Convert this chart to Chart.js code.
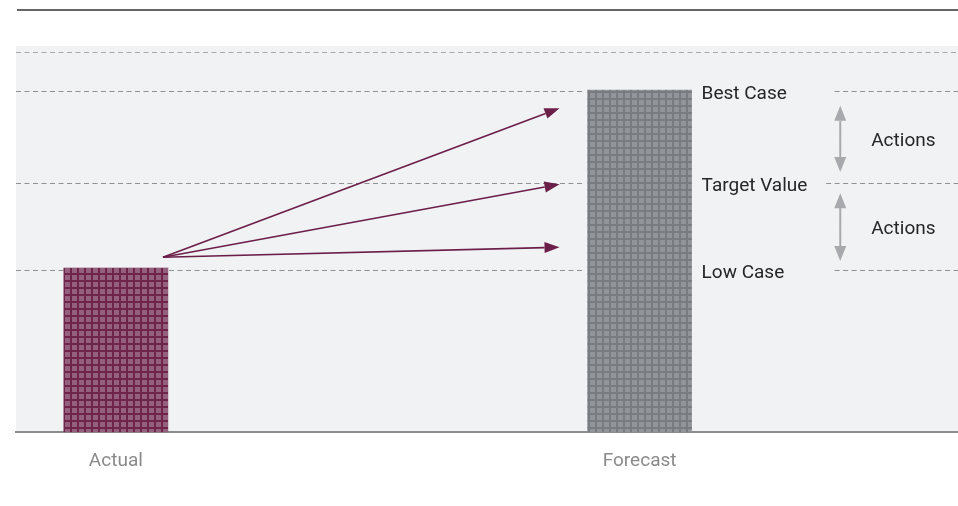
<!DOCTYPE html>
<html>
<head>
<meta charset="utf-8">
<script src="https://cdn.jsdelivr.net/npm/chart.js@4"></script>
<style>
  body { margin: 0; background: #ffffff; }
  #wrap { width: 958px; height: 506px; }
</style>
</head>
<body>
<div id="wrap"><canvas id="forecast-chart"></canvas></div>
<script>
// categories and bars
let categories = ['Actual', 'Forecast'];
let categoryX = [10.6, 66.2];
let barValues = [42.5, 88.6];

// case lines and their labels
let caseLabels = ['Best Case', 'Target Value', 'Low Case'];
let caseValues = [88.3, 64.5, 42];
let caseGapEnd = [86.9, 86.0, 86.9];
let topLineValue = 98.5;

// arrows from actual to forecast
let arrowStart = [15.6, 45.3];
let arrowEndX = 57.7;
let arrowEndValues = [83.9, 64.2, 47.9];

// actions ranges
let actionsX = 87.5;
let actionsTextX = 94.2;
let actionsRanges = [[84.5, 67.4], [61.9, 44.3]];
let actionsLabels = ['Actions', 'Actions'];

let fontFamily = 'Roboto, "Liberation Sans", sans-serif';

function makePattern(dark, light) {
  let c = document.createElement('canvas');
  c.width = 7;
  c.height = 7;
  let g = c.getContext('2d');
  g.fillStyle = dark;
  g.fillRect(0, 0, 7, 7);
  g.fillStyle = light;
  g.fillRect(2, 2, 5, 5);
  return g.createPattern(c, 'repeat');
}

function arrow(ctx, x1, y1, x2, y2, color, width, head, half) {
  let ang = Math.atan2(y2 - y1, x2 - x1);
  let bx = x2 - head * Math.cos(ang);
  let by = y2 - head * Math.sin(ang);
  ctx.strokeStyle = color;
  ctx.fillStyle = color;
  ctx.lineWidth = width;
  ctx.setLineDash([]);
  ctx.beginPath();
  ctx.moveTo(x1, y1);
  ctx.lineTo(bx, by);
  ctx.stroke();
  ctx.beginPath();
  ctx.moveTo(x2, y2);
  ctx.lineTo(bx + half * Math.sin(ang), by - half * Math.cos(ang));
  ctx.lineTo(bx - half * Math.sin(ang), by + half * Math.cos(ang));
  ctx.closePath();
  ctx.fill();
}

let decor = {
  id: 'decor',
  beforeDraw(chart) {
    let ctx = chart.ctx;
    let a = chart.chartArea;
    ctx.save();
    ctx.fillStyle = '#f1f2f4';
    ctx.fillRect(a.left, a.top, a.right - a.left, a.bottom - a.top);
    ctx.strokeStyle = '#666666';
    ctx.lineWidth = 2;
    ctx.beginPath();
    ctx.moveTo(a.left + 1, 10);
    ctx.lineTo(a.right, 10);
    ctx.stroke();
    ctx.restore();
  },
  beforeDatasetsDraw(chart) {
    let ctx = chart.ctx;
    let x = chart.scales.x;
    let y = chart.scales.y;
    let a = chart.chartArea;
    ctx.save();
    ctx.lineWidth = 1.2;
    ctx.setLineDash([5, 3.5]);
    ctx.strokeStyle = '#a5a7aa';
    let ty = Math.round(y.getPixelForValue(topLineValue)) + 0.5;
    ctx.beginPath();
    ctx.moveTo(a.left, ty);
    ctx.lineTo(a.right, ty);
    ctx.stroke();
    ctx.strokeStyle = '#8e9093';
    let barLeft = x.getPixelForValue(categoryX[1]) - 52;
    caseValues.forEach((v, i) => {
      let py = Math.round(y.getPixelForValue(v)) + 0.5;
      ctx.beginPath();
      ctx.moveTo(a.left, py);
      ctx.lineTo(barLeft - 3, py);
      ctx.moveTo(x.getPixelForValue(caseGapEnd[i]), py);
      ctx.lineTo(a.right, py);
      ctx.stroke();
    });
    ctx.restore();
  },
  afterDatasetsDraw(chart) {
    let ctx = chart.ctx;
    let x = chart.scales.x;
    let y = chart.scales.y;
    ctx.save();
    let sx = x.getPixelForValue(arrowStart[0]);
    let sy = y.getPixelForValue(arrowStart[1]);
    arrowEndValues.forEach(v => {
      arrow(ctx, sx, sy, x.getPixelForValue(arrowEndX), y.getPixelForValue(v), '#6b1f48', 1.6, 15, 5.5);
    });

    ctx.font = '19px ' + fontFamily;
    ctx.fillStyle = '#262626';
    ctx.textBaseline = 'middle';
    ctx.textAlign = 'left';
    let labelX = x.getPixelForValue(categoryX[1]) + 62;
    caseLabels.forEach((t, i) => {
      ctx.fillText(t, labelX, y.getPixelForValue(caseValues[i]) + 3);
    });

    let ax = x.getPixelForValue(actionsX);
    actionsRanges.forEach((r, i) => {
      let y1 = y.getPixelForValue(r[0]);
      let y2 = y.getPixelForValue(r[1]);
      let mid = (y1 + y2) / 2;
      arrow(ctx, ax, mid, ax, y1, '#a7a9ac', 2, 15, 6);
      arrow(ctx, ax, mid, ax, y2, '#a7a9ac', 2, 15, 6);
      ctx.fillStyle = '#262626';
      ctx.textAlign = 'center';
      ctx.fillText(actionsLabels[i], x.getPixelForValue(actionsTextX), mid + 2);
    });
    ctx.restore();
  }
};

let canvas = document.getElementById('forecast-chart');

new Chart(canvas, {
  type: 'bar',
  data: {
    datasets: [{
      data: categoryX.map((v, i) => ({ x: v, y: barValues[i] })),
      backgroundColor: [
        makePattern('#6e244b', '#93617d'),
        makePattern('#787c81', '#91959a')
      ],
      borderWidth: 0,
      barThickness: 104
    }]
  },
  options: {
    responsive: true,
    maintainAspectRatio: false,
    animation: false,
    layout: { padding: { left: 16, right: 0, top: 46, bottom: 15 } },
    plugins: {
      legend: { display: false },
      tooltip: { enabled: false }
    },
    scales: {
      x: {
        type: 'linear',
        min: 0,
        max: 100,
        offset: false,
        afterBuildTicks: scale => {
          scale.ticks = categoryX.map(v => ({ value: v }));
        },
        ticks: {
          autoSkip: false,
          maxRotation: 0,
          padding: 18,
          color: '#8a8a8a',
          font: { family: fontFamily, size: 19 },
          callback: (v, i) => categories[i]
        },
        grid: { display: false, drawTicks: false },
        border: { display: true, color: '#8c8c8c', width: 2 }
      },
      y: {
        display: false,
        min: 0,
        max: 100
      }
    }
  },
  plugins: [decor]
});
</script>
</body>
</html>
